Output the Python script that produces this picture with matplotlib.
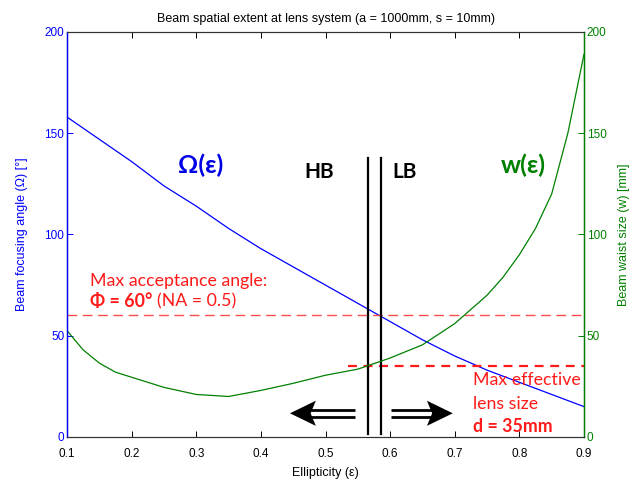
import matplotlib
matplotlib.use("Agg")
import matplotlib.pyplot as plt
import numpy as np

# ---- data ----
eps = [0.10, 0.15, 0.20, 0.25, 0.30, 0.35, 0.40, 0.45, 0.50, 0.55, 0.60, 0.65, 0.70, 0.75, 0.80, 0.85, 0.90]
omega = [158, 147, 136, 124, 114, 103, 93, 84, 75, 66, 57, 48, 40, 33, 27, 21, 15]
eps_w = [0.10, 0.125, 0.15, 0.175, 0.20, 0.25, 0.30, 0.35, 0.40, 0.45, 0.50, 0.55, 0.60, 0.65, 0.70, 0.75, 0.775, 0.80, 0.825, 0.85, 0.875, 0.90]
waist = [52.5, 43, 36.5, 32, 29.5, 24.5, 21, 20, 23, 26.5, 30.5, 33.5, 39, 45.5, 56, 70, 79, 90, 103, 120, 150, 189]
xticks = [0.1, 0.2, 0.3, 0.4, 0.5, 0.6, 0.7, 0.8, 0.9]
yticks = [0, 50, 100, 150, 200]
accept_angle = 60
lens_size = 35
lens_start = 0.535
hb_lb = [0.565, 0.586]

tickfont = "Liberation Sans"
annfont = "Lato"

fig = plt.figure(figsize=(6.31, 4.87), dpi=100)
ax = fig.add_axes([0.1062, 0.1027, 0.8193, 0.8316])
ax2 = ax.twinx()

ax.plot(eps, omega, color=(0, 0, 1), lw=0.9)
ax2.plot(eps_w, waist, color=(0, 0.5, 0), lw=0.9)

ax.set_xlim(0.1, 0.9)
ax.set_ylim(0, 200)
ax2.set_ylim(0, 200)
ax.set_xticks(xticks)
ax.set_xticklabels([f"{t:g}" for t in xticks], fontfamily=tickfont, fontsize=8.5)
ax.set_yticks(yticks)
ax.set_yticklabels([str(t) for t in yticks], fontfamily=tickfont, fontsize=8.5, color=(0, 0, 1))
ax2.set_yticks(yticks)
ax2.set_yticklabels([str(t) for t in yticks], fontfamily=tickfont, fontsize=8.5, color=(0, 0.5, 0))

ax.tick_params(axis='x', direction='in', top=True, length=4, width=0.7, pad=8)
ax.tick_params(axis='y', direction='in', length=4, width=0.7, colors=(0, 0, 1), pad=2)
ax2.tick_params(axis='y', direction='in', length=4, width=0.7, colors=(0, 0.5, 0), pad=2)
for a in (ax, ax2):
    a.spines['top'].set_color('#333333')
    a.spines['bottom'].set_color('#333333')
    a.spines['top'].set_linewidth(0.8)
    a.spines['bottom'].set_linewidth(0.8)
ax2.spines['left'].set_color((0, 0, 1))
ax2.spines['right'].set_color((0, 0.5, 0))
ax2.spines['left'].set_linewidth(1.0)
ax2.spines['right'].set_linewidth(1.0)

ax.set_xlabel("Ellipticity (ε)", fontfamily=tickfont, fontsize=9, labelpad=5)
ax.set_ylabel("Beam focusing angle (Ω) [°]", fontfamily=tickfont, fontsize=9, color=(0, 0, 1), labelpad=12)
ax2.set_ylabel("Beam waist size (w) [mm]", fontfamily=tickfont, fontsize=9, color=(0, 0.5, 0), labelpad=8)
ax.set_title("Beam spatial extent at lens system (a = 1000mm, s = 10mm)", fontfamily=tickfont, fontsize=9, pad=7)

# red reference lines
ax.axhline(accept_angle, color=(1, 0.3, 0.3), lw=1.0, dashes=(7, 4))
ax.plot([lens_start, 0.9], [lens_size, lens_size], color=(1, 0.1, 0.1), lw=1.6, dashes=(4, 3))

# HB / LB vertical lines
for xv in hb_lb:
    ax.plot([xv, xv], [1.5, 138], color='black', lw=1.6)

ax.text(0.491, 131, "HB", fontfamily=annfont, fontweight='bold', fontsize=15, ha='center', va='center')
ax.text(0.622, 131, "LB", fontfamily=annfont, fontweight='bold', fontsize=15, ha='center', va='center')
ax.text(0.306, 134, "Ω(ε)", fontfamily=annfont, fontweight='bold', fontsize=18, color=(0, 0, 0.9), ha='center', va='center')
ax.text(0.806, 134, "w(ε)", fontfamily=annfont, fontweight='bold', fontsize=18, color=(0, 0.5, 0), ha='center', va='center')

red = (1, 0.1, 0.1)
ax.text(0.135, 77, "Max acceptance angle:", fontfamily=annfont, fontsize=12.8, color=red, ha='left', va='center')
t1 = ax.text(0.135, 67, "Φ = 60°", fontfamily=annfont, fontsize=12.8, fontweight='bold', color=red, ha='left', va='center')
fig.canvas.draw()
bb = t1.get_window_extent()
x_end = ax.transData.inverted().transform((bb.x1, 0))[0]
ax.text(x_end + 0.008, 67, "(NA = 0.5)", fontfamily=annfont, fontsize=12.8, color=red, ha='left', va='center')

ax.text(0.729, 28, "Max effective", fontfamily=annfont, fontsize=12.8, color=red, ha='left', va='center')
ax.text(0.729, 16.5, "lens size", fontfamily=annfont, fontsize=12.8, color=red, ha='left', va='center')
ax.text(0.729, 5, "d = 35mm", fontfamily=annfont, fontsize=12.8, fontweight='bold', color=red, ha='left', va='center')

# double-shaft arrows
def dbl_arrow(x_tail, x_tip, yc):
    d = np.sign(x_tip - x_tail)
    head_len = 0.040
    head_h = 6.2
    base = x_tip - d * head_len
    ax.fill([x_tip, base, base + d * 0.008, base], [yc, yc + head_h, yc, yc - head_h], color='black', lw=0)
    for off in (1.6, -1.6):
        ax.plot([x_tail, base + d * 0.012], [yc + off, yc + off], color='black', lw=2.0, solid_capstyle='butt')

dbl_arrow(0.546, 0.445, 11.7)
dbl_arrow(0.601, 0.697, 11.7)

fig.savefig("out.png", dpi=100)
